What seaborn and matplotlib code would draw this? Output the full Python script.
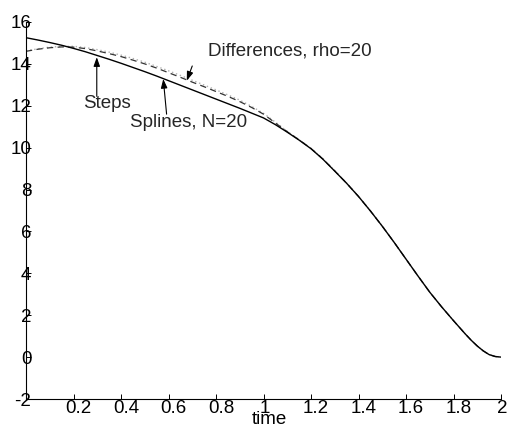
import numpy as np
import pandas as pd
import matplotlib
matplotlib.use("Agg")
import matplotlib.pyplot as plt
import matplotlib.transforms as mtransforms
import seaborn as sns

# ---- data ----
time = [0.0, 0.05, 0.1, 0.15, 0.2, 0.25, 0.3, 0.35, 0.4, 0.45, 0.5, 0.55, 0.6, 0.65,
        0.7, 0.75, 0.8, 0.85, 0.9, 0.95, 1.0, 1.05, 1.1, 1.15, 1.2, 1.25, 1.3, 1.35,
        1.4, 1.45, 1.5, 1.55, 1.6, 1.65, 1.7, 1.75, 1.8, 1.85, 1.875, 1.9, 1.925,
        1.95, 1.975, 2.0]
splines = [15.25, 15.14, 15.02, 14.89, 14.74, 14.58, 14.40, 14.22, 14.03, 13.83,
           13.63, 13.42, 13.20, 12.98, 12.76, 12.54, 12.32, 12.10, 11.88, 11.65,
           11.42, 11.10, 10.74, 10.36, 9.95, 9.45, 8.88, 8.30, 7.67, 6.98,
           6.25, 5.48, 4.68, 3.88, 3.10, 2.40, 1.74, 1.10, 0.80, 0.53, 0.30,
           0.12, 0.03, 0.0]
differences = [14.60, 14.70, 14.77, 14.81, 14.80, 14.73, 14.62, 14.49, 14.35, 14.18,
               14.00, 13.80, 13.58, 13.36, 13.13, 12.91, 12.68, 12.45, 12.20, 11.92,
               11.60, 11.18, 10.76, 10.37, 9.96, 9.46, 8.89, 8.30, 7.67, 6.98,
               6.25, 5.48, 4.68, 3.88, 3.10, 2.40, 1.74, 1.10, 0.80, 0.53, 0.30,
               0.12, 0.03, 0.0]
steps = [14.62, 14.72, 14.80, 14.84, 14.84, 14.78, 14.68, 14.56, 14.42, 14.26,
         14.08, 13.88, 13.67, 13.45, 13.22, 12.99, 12.76, 12.52, 12.27, 11.97,
         11.64, 11.22, 10.78, 10.38, 9.97, 9.47, 8.90, 8.31, 7.68, 6.99,
         6.26, 5.48, 4.68, 3.88, 3.10, 2.40, 1.74, 1.10, 0.80, 0.53, 0.30,
         0.12, 0.03, 0.0]

xticks = [0.2, 0.4, 0.6, 0.8, 1.0, 1.2, 1.4, 1.6, 1.8, 2.0]
xticklabels = ["0.2", "0.4", "0.6", "0.8", "1", "1.2", "1.4", "1.6", "1.8", "2"]
yticks = [-2, 0, 2, 4, 6, 8, 10, 12, 14, 16]
yticklabels = ["-2", "0", "2", "4", "6", "8", "10", "12", "14", "16"]

df = pd.DataFrame({"time": time, "Splines": splines,
                   "Differences": differences, "Steps": steps})

sns.set_theme(style="white")
plt.rcParams["font.family"] = ["Liberation Sans", "DejaVu Sans"]
FS = 13.5

fig = plt.figure(figsize=(5.08, 4.24), dpi=100)
ax = fig.add_axes([26 / 508, 1 - 399 / 424, 475 / 508, 377 / 424])

sns.lineplot(data=df, x="time", y="Steps", ax=ax, color="#b0b0b0",
             linestyle=(0, (1, 2)), linewidth=1.0)
sns.lineplot(data=df, x="time", y="Differences", ax=ax, color="#333333",
             linestyle=(0, (5, 3.5)), linewidth=0.9)
sns.lineplot(data=df, x="time", y="Splines", ax=ax, color="black",
             linewidth=1.0)

ax.set_xlim(0, 2)
ax.set_ylim(-2, 16)
ax.set_xticks(xticks)
ax.set_xticklabels(xticklabels)
ax.set_yticks(yticks)
ax.set_yticklabels(yticklabels)
ax.set_xlabel("")
ax.set_ylabel("")

for s in ["top", "right"]:
    ax.spines[s].set_visible(False)
for s in ["left", "bottom"]:
    ax.spines[s].set_color("black")
    ax.spines[s].set_linewidth(0.8)

ax.tick_params(axis="both", direction="in", length=3.6, width=0.7,
               color="black", labelsize=FS, labelcolor="black")
ax.tick_params(axis="y", pad=-3.8)
ax.tick_params(axis="x", pad=0.5)
ax.tick_params(left=True, bottom=True)

# MATLAB-like placement: multi-character x labels sit a little right of their tick
for lab in ax.get_xticklabels():
    dx = 5 / 100 if len(lab.get_text()) > 1 else 1 / 100
    lab.set_transform(lab.get_transform() +
                      mtransforms.ScaledTranslation(dx, 0, fig.dpi_scale_trans))

fig.text(269 / 508, 1 - 410.5 / 424, "time", ha="center", va="top",
         fontsize=FS, color="black")

arrow = dict(arrowstyle="-|>,head_length=0.45,head_width=0.16",
             color="black", lw=0.8, shrinkA=0, shrinkB=0)
ax.annotate("", xy=(0.298, 14.32), xytext=(0.298, 12.45), arrowprops=arrow)
ax.text(0.341, 12.1, "Steps", ha="center", va="center", fontsize=FS)

ax.annotate("", xy=(0.578, 13.28), xytext=(0.592, 11.6), arrowprops=arrow)
ax.text(0.438, 11.2, "Splines, N=20", ha="left", va="center", fontsize=FS)

ax.annotate("", xy=(0.677, 13.2), xytext=(0.700, 13.9), arrowprops=arrow)
ax.text(0.766, 14.6, "Differences, rho=20", ha="left", va="center", fontsize=FS)

fig.savefig("out.png", dpi=100)
